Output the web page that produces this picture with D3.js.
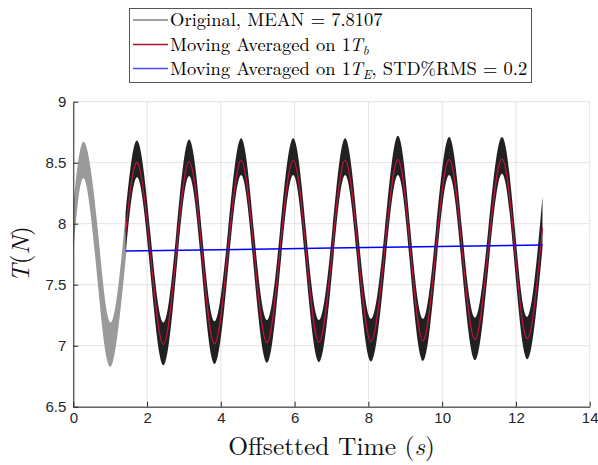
<!DOCTYPE html>
<html>
<head>
<meta charset="utf-8">
<script src="https://cdn.jsdelivr.net/npm/d3@7"></script>
<style>
  html, body { margin: 0; padding: 0; background: #fff; }
  svg { display: block; }
</style>
</head>
<body>
<svg id="chart" width="598" height="465"></svg>
<script>
// Axis ticks
const xTicks = [0, 2, 4, 6, 8, 10, 12, 14];
const xTickLabels = ["0", "2", "4", "6", "8", "10", "12", "14"];
const yTicks = [6.5, 7, 7.5, 8, 8.5, 9];
const yTickLabels = ["6.5", "7", "7.5", "8", "8.5", "9"];

// Raw tension before the offset window (gray): envelope at extrema / mean crossings
const warmTime  = [0, 0.29, 0.655, 1.02, 1.44];
const warmUpper = [8.15, 8.67, 7.98, 7.19, 8.15];
const warmLower = [7.76, 8.37, 7.54, 6.83, 7.77];

// Raw tension inside the window (near-black): envelope at extrema / mean crossings
const origTime = [1.42, 1.74, 2.09, 2.44, 2.79, 3.14, 3.49, 3.83, 4.19, 4.55, 4.90,
                  5.25, 5.60, 5.96, 6.31, 6.66, 7.02, 7.37, 7.72, 8.07, 8.44, 8.80,
                  9.14, 9.48, 9.83, 10.19, 10.54, 10.89, 11.25, 11.62, 11.97, 12.32, 12.72];
const origUpper = [8.10, 8.68, 7.92, 7.19, 7.92, 8.69, 7.92, 7.20, 7.93, 8.70, 7.93,
                   7.21, 7.93, 8.70, 7.94, 7.21, 7.94, 8.70, 7.94, 7.22, 7.94, 8.72,
                   7.945, 7.22, 7.95, 8.71, 7.95, 7.23, 7.955, 8.71, 7.96, 7.24, 8.22];
const origLower = [7.76, 8.38, 7.60, 6.84, 7.60, 8.39, 7.60, 6.85, 7.61, 8.40, 7.61,
                   6.86, 7.61, 8.40, 7.62, 6.865, 7.62, 8.40, 7.62, 6.87, 7.62, 8.40,
                   7.625, 6.875, 7.63, 8.40, 7.63, 6.88, 7.635, 8.41, 7.64, 6.89, 7.80];

// Moving average over one blade period (same sample times as origTime)
const avgBlade = [7.93, 8.50, 7.76, 7.01, 7.76, 8.51, 7.76, 7.015, 7.77, 8.52, 7.77,
                  7.025, 7.77, 8.52, 7.78, 7.03, 7.78, 8.52, 7.78, 7.035, 7.78, 8.525,
                  7.785, 7.04, 7.79, 8.525, 7.79, 7.05, 7.795, 8.53, 7.80, 7.06, 7.97];

// Moving average over one encounter period
const avgEncTime = [1.42, 7.0, 12.72];
const avgEnc = [7.776, 7.80, 7.826];

// Legend entries
const legendColors = ["#808080", "#a2142f", "#4a4aff"];

const width = 598, height = 465;
const margin = { left: 73.3, right: 8.3, top: 101.7, bottom: 58.3 };

const svg = d3.select("#chart");

const x = d3.scaleLinear().domain([0, 14]).range([margin.left, width - margin.right]);
const y = d3.scaleLinear().domain([6.5, 9]).range([height - margin.bottom, margin.top]);

const serif = "'Latin Modern Roman', 'CMU Serif', serif";
const sans = "'Liberation Sans', Arial, Helvetica, sans-serif";

// Grid
const grid = svg.append("g").attr("stroke", "#e3e3e3").attr("stroke-width", 1);
grid.selectAll("line.gx").data(xTicks).join("line")
  .attr("x1", d => x(d)).attr("x2", d => x(d))
  .attr("y1", y(6.5)).attr("y2", y(9));
grid.selectAll("line.gy").data(yTicks).join("line")
  .attr("x1", x(0)).attr("x2", x(14))
  .attr("y1", d => y(d)).attr("y2", d => y(d));

// Bands and lines
const band = (t, lo, hi) => d3.area()
  .x((d, i) => x(t[i]))
  .y0((d, i) => y(lo[i]))
  .y1((d, i) => y(hi[i]))
  .curve(d3.curveNatural)(t);

svg.append("path")
  .attr("d", band(warmTime, warmLower, warmUpper))
  .attr("fill", "#9a9a9a");

svg.append("path")
  .attr("d", band(origTime, origLower, origUpper))
  .attr("fill", "#212121");

const line = d3.line().curve(d3.curveNatural);

svg.append("path")
  .attr("d", line(origTime.map((t, i) => [x(t), y(avgBlade[i])])))
  .attr("fill", "none")
  .attr("stroke", "#c4143c")
  .attr("stroke-width", 1.2);

svg.append("path")
  .attr("d", line(avgEncTime.map((t, i) => [x(t), y(avgEnc[i])])))
  .attr("fill", "none")
  .attr("stroke", "#0000ff")
  .attr("stroke-width", 1.5);

// Axes
const axisColor = "#262626";
const xAxis = svg.append("g")
  .attr("transform", `translate(0,${y(6.5)})`)
  .call(d3.axisBottom(x).tickValues(xTicks).tickFormat((d, i) => xTickLabels[i])
        .tickSizeInner(-5).tickSizeOuter(0).tickPadding(6));
const yAxis = svg.append("g")
  .attr("transform", `translate(${x(0)},0)`)
  .call(d3.axisLeft(y).tickValues(yTicks).tickFormat((d, i) => yTickLabels[i])
        .tickSizeInner(-5).tickSizeOuter(0).tickPadding(7));

[xAxis, yAxis].forEach(g => {
  g.attr("font-family", sans).attr("font-size", 15);
  g.select(".domain").attr("stroke", axisColor).attr("stroke-width", 1);
  g.selectAll(".tick line").attr("stroke", axisColor).attr("stroke-width", 1);
  g.selectAll(".tick text").attr("fill", axisColor);
});

// Axis titles
const xTitle = svg.append("text")
  .attr("x", (x(0) + x(14)) / 2)
  .attr("y", 455)
  .attr("text-anchor", "middle")
  .attr("font-family", serif)
  .attr("font-size", 25.5)
  .attr("fill", "#111");
xTitle.append("tspan").text("Offsetted Time (");
xTitle.append("tspan").attr("font-style", "italic").text("s");
xTitle.append("tspan").text(")");

const yTitle = svg.append("text")
  .attr("transform", `translate(29,${(y(6.5) + y(9)) / 2}) rotate(-90)`)
  .attr("text-anchor", "middle")
  .attr("font-family", serif)
  .attr("font-size", 25)
  .attr("fill", "#111");
yTitle.append("tspan").attr("font-style", "italic").text("T");
yTitle.append("tspan").text("(");
yTitle.append("tspan").attr("font-style", "italic").text("N");
yTitle.append("tspan").text(")");

// Legend
const legend = svg.append("g");
legend.append("rect")
  .attr("x", 129.5).attr("y", 8.5).attr("width", 402).attr("height", 74)
  .attr("fill", "#fff").attr("stroke", "#555").attr("stroke-width", 1);

const rowY = [20, 44.5, 68.5];
rowY.forEach((ry, i) => {
  legend.append("line")
    .attr("x1", 133).attr("x2", 168)
    .attr("y1", ry).attr("y2", ry)
    .attr("stroke", legendColors[i]).attr("stroke-width", 1.5);
});

const legText = (ry) => legend.append("text")
  .attr("x", 170).attr("y", ry + 6)
  .attr("font-family", serif)
  .attr("font-size", 18.5)
  .attr("fill", "#000");

legText(rowY[0]).text("Original, MEAN = 7.8107");

const t2 = legText(rowY[1]);
t2.append("tspan").text("Moving Averaged on 1");
t2.append("tspan").attr("font-style", "italic").attr("dx", -1.5).text("T");
t2.append("tspan").attr("font-style", "italic").attr("font-size", 13).attr("dy", 4).text("b");

const t3 = legText(rowY[2]);
t3.append("tspan").text("Moving Averaged on 1");
t3.append("tspan").attr("font-style", "italic").attr("dx", -1.5).text("T");
t3.append("tspan").attr("font-style", "italic").attr("font-size", 13).attr("dy", 4).text("E");
t3.append("tspan").attr("dy", -4).text(", STD%RMS = 0.2");
</script>
</body>
</html>
